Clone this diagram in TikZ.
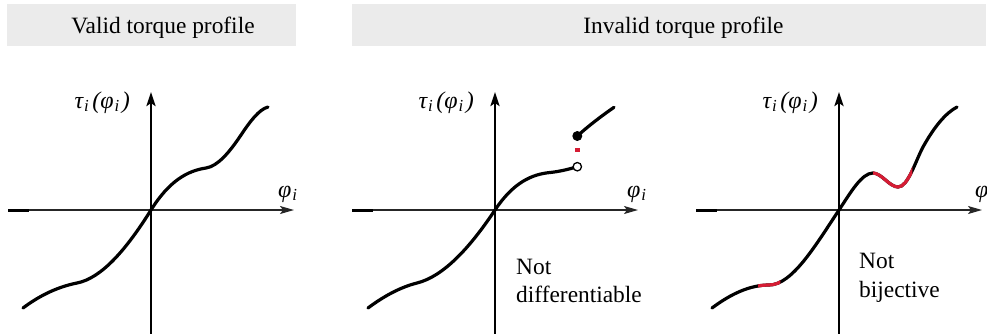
\documentclass[tikz,border=0pt]{standalone}
\usepackage{fontspec}
\setmainfont{Liberation Serif}
\usetikzlibrary{arrows.meta}

\definecolor{headgray}{RGB}{235,235,235}
\definecolor{badred}{RGB}{214,28,52}

\tikzset{
  xaxis/.style={line width=1.5pt, draw=black!85, -{Stealth[length=14pt,width=8pt,inset=3pt]}},
  yaxis/.style={line width=2.6pt, -{Stealth[length=14pt,width=9pt,inset=3pt]}},
  axisstub/.style={line width=3pt},
  profile/.style={line width=3.2pt, line cap=round},
  redpart/.style={line width=3.2pt, draw=badred},
  txt/.style={font=\fontsize{23.4}{28}\selectfont, inner sep=0pt},
  mlabel/.style={font=\fontsize{24}{26}\selectfont\itshape, inner sep=0pt},
}

\newcommand{\torquelabel}{τ\kern1pt\textsubscript{i}\kern3pt(φ\kern1pt\textsubscript{i}\kern2pt)}
\newcommand{\anglelabel}{φ\kern1pt\textsubscript{i}}

% the profiles, y pointing up, origin on the axes
\newcommand{\validcurve}{(-128,-98) .. controls (-110,-84.5) and (-92,-76.6) .. (-74,-73)
  .. controls (-49.3,-68.1) and (-24.7,-39.5) .. (0,0)
  .. controls (18.3,29.3) and (36.7,39.3) .. (55,42)
  .. controls (66.7,43.8) and (78.3,57.5) .. (90,75)
  .. controls (99,88.5) and (108,100.6) .. (117,103)}
\newcommand{\jumplow}{(-127,-98) .. controls (-110.7,-85.8) and (-94.3,-77.1) .. (-78,-73)
  .. controls (-52,-66.5) and (-26,-39) .. (0,0)
  .. controls (18.3,27.5) and (36.7,35.7) .. (55,37.5)
  .. controls (64.1,38.4) and (73.2,40.6) .. (82.3,43.3)}
\newcommand{\jumphigh}{(82.3,74) .. controls (94.5,85) and (106.8,94.2) .. (119,102.7)}
\newcommand{\wavycurve}{(-127,-98) .. controls (-108,-83.8) and (-89,-75) .. (-70,-75)
  .. controls (-46.7,-75) and (-23.3,-35) .. (0,0)
  .. controls (11.3,17) and (22.7,37) .. (34,37)
  .. controls (42.3,37) and (50.7,23) .. (59,23)
  .. controls (69,23) and (76.5,49) .. (84,63)
  .. controls (95.3,83.4) and (106.7,97) .. (118,103)}

\begin{document}
\begin{tikzpicture}[x=1pt, y=-1pt]
  \useasboundingbox (0,0) rectangle (987,333);

  % headers
  \fill[headgray] (7,4) rectangle (296,45.5);
  \fill[headgray] (352,4) rectangle (986,45.5);
  \node[txt, anchor=base] (validhead) at (163,33) {Valid torque profile};
  \node[txt, anchor=base] (invalidhead) at (683.5,33) {Invalid torque profile};

  % axes of the three plots
  \foreach \ox/\lx in {151/127, 495/132, 839/136} {
    \begin{scope}[shift={(\ox,210)}, yscale=-1]
      \draw[xaxis] (-143,0) -- (143,0);
      \draw[axisstub] (-143,0) -- (-122,0);
      \draw[yaxis] (0,-125) -- (0,118);
      \node[mlabel, anchor=base east] at (-21,102) {\torquelabel};
      \node[mlabel, anchor=base west] at (\lx,13) {\anglelabel};
    \end{scope}
  }

  % valid profile
  \begin{scope}[shift={(151,210)}, yscale=-1]
    \draw[profile] \validcurve;
  \end{scope}

  % not differentiable
  \begin{scope}[shift={(495,210)}, yscale=-1]
    \draw[profile] \jumplow;
    \draw[profile] \jumphigh;
    \fill[badred] (80.1,57.8) rectangle (84.5,62.2);
    \fill (82.3,74) circle (5);
    \filldraw[fill=white, line width=1.3pt] (82.3,43.3) circle (4.2);
  \end{scope}
  \node[txt, anchor=base west] (notd) at (516,274) {Not};
  \node[txt, anchor=base west] (diffl) at (516,302) {differentiable};

  % not bijective
  \begin{scope}[shift={(839,210)}, yscale=-1]
    \draw[profile] \wavycurve;
    \begin{scope}
      \clip (-81,-120) rectangle (-58.7,0);
      \draw[redpart] \wavycurve;
    \end{scope}
    \begin{scope}
      \clip (34,0) rectangle (73.3,50);
      \draw[redpart] \wavycurve;
    \end{scope}
  \end{scope}
  \node[txt, anchor=base west] (notb) at (859,268) {Not};
  \node[txt, anchor=base west] (bijl) at (859,297) {bijective};
\end{tikzpicture}
\end{document}
